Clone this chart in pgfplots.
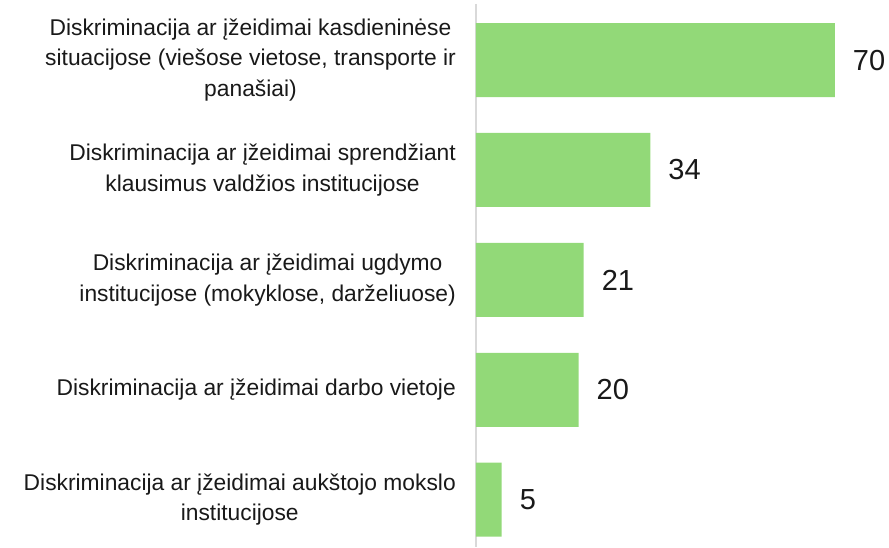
\documentclass[border=0pt]{standalone}
\usepackage{fontspec}
\setmainfont{Liberation Sans}
\usepackage{pgfplots}
\pgfplotsset{compat=1.18}
\definecolor{barg}{RGB}{146,217,120}
\definecolor{axg}{RGB}{217,217,217}
\begin{document}
\begin{tikzpicture}[x=1pt,y=1pt]
\useasboundingbox (0,0) rectangle (889,547);
\begin{axis}[
  at={(476pt,0pt)}, anchor=south west,
  scale only axis, width=410pt, height=543pt,
  xbar, bar width=74pt,
  xmin=0, xmax=80,
  ymin=-0.51, ymax=4.43, y dir=reverse,
  hide x axis,
  axis y line*=left,
  y axis line style={draw=axg, line width=1.5pt, -},
  ytick={0,1,2,3,4},
  major tick length=0pt,
  ytick style={draw=none},
  yticklabels={
    {Diskriminacija ar įžeidimai kasdieninėse\\situacijose (viešose vietose, transporte ir\\panašiai)},
    {Diskriminacija ar įžeidimai sprendžiant\\klausimus valdžios institucijose},
    {Diskriminacija ar įžeidimai ugdymo\\institucijose (mokyklose, darželiuose)},
    {Diskriminacija ar įžeidimai darbo vietoje},
    {Diskriminacija ar įžeidimai aukštojo mokslo\\institucijose}
  },
  yticklabel style={align=center, inner sep=0pt, xshift=-20pt, font=\fontsize{22.8}{30.5}\selectfont, text=black!90},
  /pgf/number format/assume math mode=true,
  nodes near coords,
  nodes near coords style={anchor=west, inner sep=0pt, xshift=18pt, font=\fontsize{29}{29}\selectfont, text=black!90},
  clip=false,
]
\addplot[fill=barg, draw=none] coordinates {(70,0) (34,1) (21,2) (20,3) (5,4)};
\end{axis}
\end{tikzpicture}
\end{document}
